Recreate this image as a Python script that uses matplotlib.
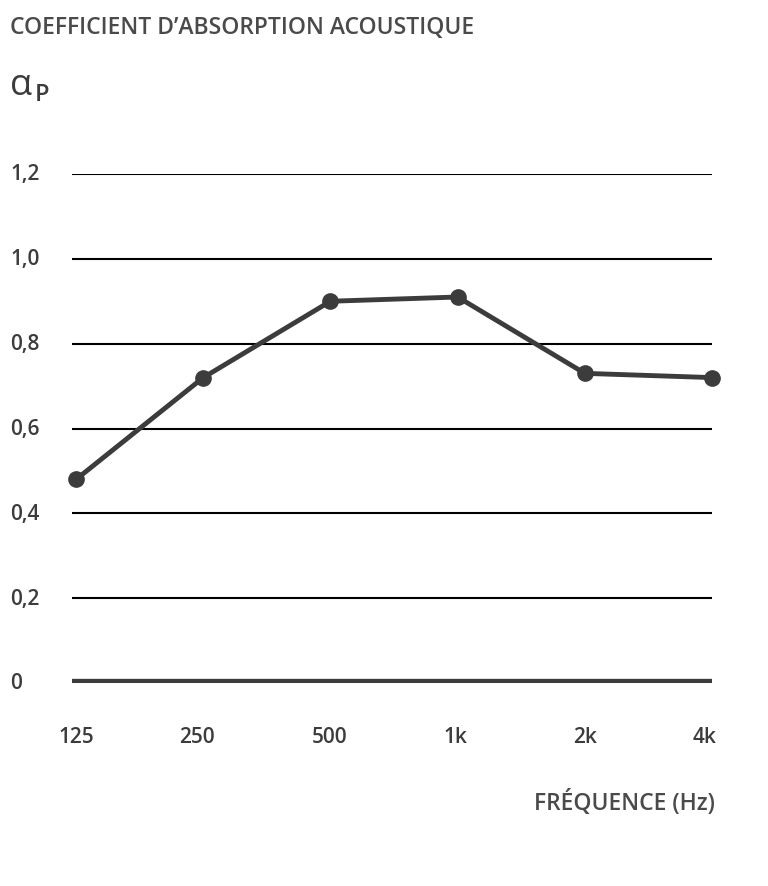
import matplotlib.pyplot as plt

freqs = ['125', '250', '500', '1k', '2k', '4k']
alpha = [0.48, 0.72, 0.90, 0.91, 0.73, 0.72]
yticks = [0, 0.2, 0.4, 0.6, 0.8, 1.0, 1.2]
ylabels = ['0', '0,2', '0,4', '0,6', '0,8', '1,0', '1,2']

col = '#3c3c3c'
plt.rcParams['font.family'] = 'Open Sans'

W, H = 768, 887
fig = plt.figure(figsize=(W / 100, H / 100), dpi=100)
ax = fig.add_axes([72 / W, (H - 684) / H, (712 - 72) / W, (684 - 175) / H])

x = list(range(len(freqs)))
ax.set_xlim(-0.032, 5)
ax.set_ylim(0, 1.2)
for v in yticks[1:]:
    ax.axhline(v, color='black', lw=1.5, zorder=1)
ax.axhline(0, color=col, lw=6, zorder=1)
ax.plot(x, alpha, color=col, lw=3.5, marker='o', ms=11, zorder=3, clip_on=False)

ax.axis('off')
for v, lab in zip(yticks, ylabels):
    fig.text(10 / W, (H - (684 - v / 1.2 * 509)) / H, lab, fontsize=15, fontweight='semibold',
             color=col, va='center', ha='left')
xpos = [76, 197, 330, 455, 585, 705]
for px, lab in zip(xpos, freqs):
    fig.text(px / W, (H - 738) / H, lab, fontsize=15, fontweight='semibold', color=col,
             ha='center', va='center')

fig.text(10 / W, (H - 28) / H, 'COEFFICIENT D\u2019ABSORPTION ACOUSTIQUE', fontsize=16.5,
         fontweight='semibold', color='#4a4a4a', va='center')
fig.text(10 / W, (H - 86) / H, 'α', fontsize=26, color=col, va='center')
fig.text(35 / W, (H - 95) / H, 'P', fontsize=17, fontweight='semibold', color=col, va='center')
fig.text(715 / W, (H - 803) / H, 'FRÉQUENCE (Hz)', fontsize=16.5, fontweight='semibold',
         color='#4a4a4a', ha='right', va='center')

fig.savefig('out.png', dpi=100)
